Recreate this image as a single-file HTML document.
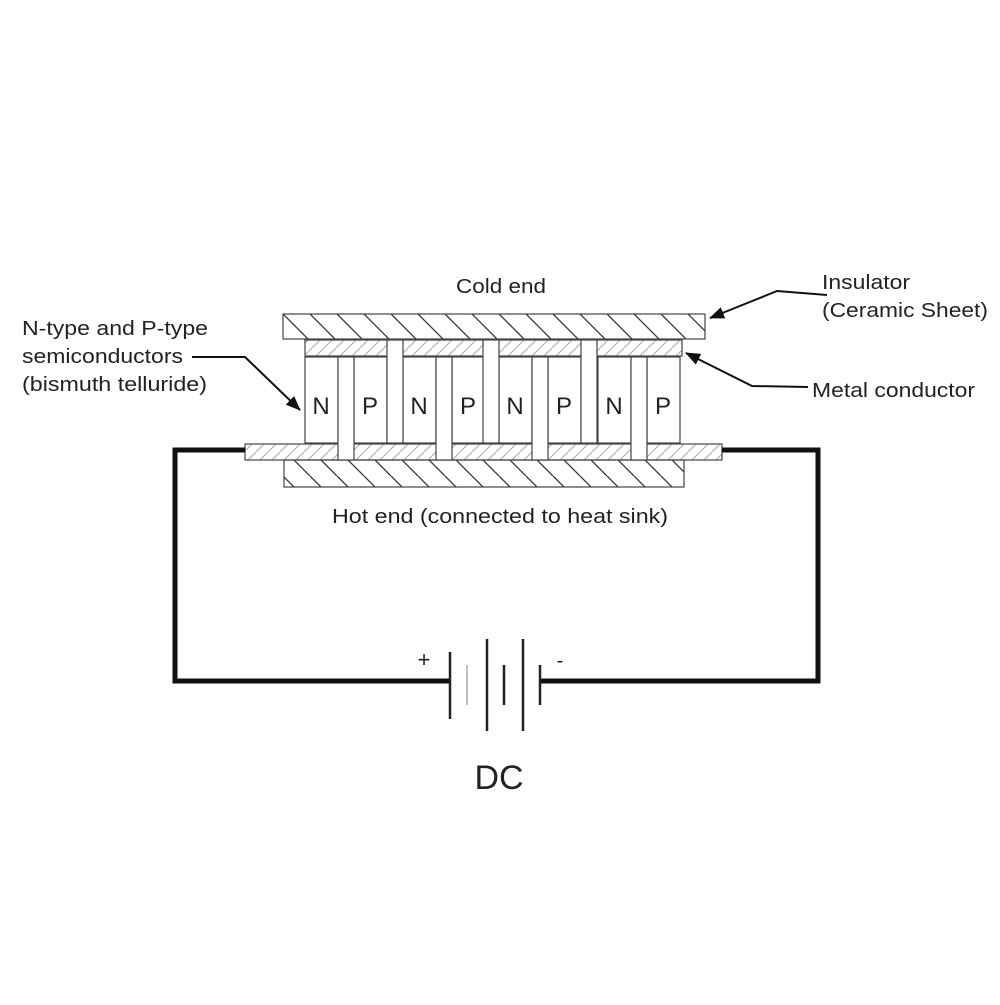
<!DOCTYPE html>
<html><head><style>
body{margin:0;background:#fff}
svg text{font-family:"Liberation Sans",sans-serif;fill:#222}
</style></head><body>
<svg width="1000" height="1000" viewBox="0 0 1000 1000" xmlns="http://www.w3.org/2000/svg">
<defs>
<pattern id="ins" width="27" height="27" patternUnits="userSpaceOnUse" patternTransform="translate(283,314)">
<path d="M0,0 L27,27 M-27,0 L0,27 M27,0 L54,27" stroke="#333" stroke-width="1.3"/>
</pattern>
<pattern id="met" width="12" height="12" patternUnits="userSpaceOnUse">
<path d="M0,12 L12,0 M-6,6 L6,-6 M6,18 L18,6" stroke="#aaa" stroke-width="1"/>
</pattern>
<marker id="ah" markerWidth="15" markerHeight="12" refX="14" refY="6" orient="auto" markerUnits="userSpaceOnUse" viewBox="0 0 15 12">
<path d="M0,0 L15,6 L0,12 Z" fill="#111"/>
</marker>
</defs>
<g stroke="#444" stroke-width="1.2">
<rect x="283" y="314" width="422" height="25" fill="url(#ins)"/>
<rect x="305" y="340" width="377" height="16" fill="url(#met)"/>
<rect x="245" y="444" width="477" height="16" fill="url(#met)"/>
<rect x="284" y="460" width="400" height="27" fill="url(#ins)"/>
<g fill="#fff">
<rect x="305" y="357" width="33" height="86"/>
<rect x="354" y="357" width="33" height="86"/>
<rect x="403" y="357" width="33" height="86"/>
<rect x="452" y="357" width="33" height="86"/>
<rect x="499" y="357" width="33" height="86"/>
<rect x="548" y="357" width="33" height="86"/>
<rect x="598" y="357" width="33" height="86"/>
<rect x="647" y="357" width="33" height="86"/>
<rect x="338" y="357" width="16" height="103"/>
<rect x="436" y="357" width="16" height="103"/>
<rect x="532" y="357" width="16" height="103"/>
<rect x="631" y="357" width="16" height="103"/>
<rect x="387" y="340" width="16" height="103"/>
<rect x="483" y="340" width="16" height="103"/>
<rect x="581" y="340" width="16" height="103"/>
</g>
</g>
<g font-size="24" text-anchor="middle">
<text x="321" y="414">N</text><text x="370" y="414">P</text>
<text x="419" y="414">N</text><text x="468" y="414">P</text>
<text x="515" y="414">N</text><text x="564" y="414">P</text>
<text x="614" y="414">N</text><text x="663" y="414">P</text>
</g>
<g fill="none" stroke="#111" stroke-width="5">
<polyline points="245,450 175,450 175,681 450,681"/>
<polyline points="722,450 818,450 818,681 540,681"/>
</g>
<g stroke="#222" stroke-width="2.5">
<line x1="450" y1="652" x2="450" y2="719"/>
<line x1="467" y1="665" x2="467" y2="705" stroke="#aaa" stroke-width="1.5"/>
<line x1="487" y1="639" x2="487" y2="731"/>
<line x1="504" y1="665" x2="504" y2="705"/>
<line x1="523" y1="639" x2="523" y2="731"/>
<line x1="540" y1="665" x2="540" y2="705"/>
</g>
<text x="424" y="667" font-size="22" text-anchor="middle">+</text>
<text x="560" y="667" font-size="20" text-anchor="middle">-</text>
<text x="499" y="789" font-size="34" text-anchor="middle">DC</text>
<g fill="none" stroke="#111" stroke-width="2">
<polyline points="827,295 777,291 710,318" marker-end="url(#ah)"/>
<polyline points="808,387 752,386 686,353" marker-end="url(#ah)"/>
<polyline points="192,357 245,357 300,410" marker-end="url(#ah)"/>
</g>
<g font-size="20">
<text x="456" y="293" textLength="90" lengthAdjust="spacingAndGlyphs">Cold end</text>
<text x="822" y="289" textLength="88" lengthAdjust="spacingAndGlyphs">Insulator</text>
<text x="822" y="317" textLength="166" lengthAdjust="spacingAndGlyphs">(Ceramic Sheet)</text>
<text x="812" y="397" textLength="163" lengthAdjust="spacingAndGlyphs">Metal conductor</text>
<text x="22" y="335" textLength="186" lengthAdjust="spacingAndGlyphs">N-type and P-type</text>
<text x="22" y="363" textLength="161" lengthAdjust="spacingAndGlyphs">semiconductors</text>
<text x="22" y="391" textLength="185" lengthAdjust="spacingAndGlyphs">(bismuth telluride)</text>
<text x="332" y="523" textLength="336" lengthAdjust="spacingAndGlyphs">Hot end (connected to heat sink)</text>
</g>
</svg>
</body></html>
